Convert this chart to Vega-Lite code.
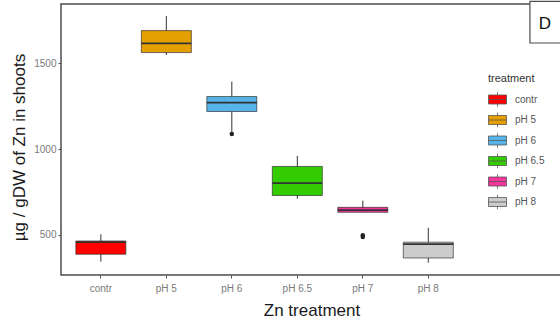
{
  "$schema": "https://vega.github.io/schema/vega-lite/v6.json",
  "width": 501,
  "height": 271,
  "autosize": {"type": "none"},
  "padding": {"left": 61, "top": 4, "right": 0, "bottom": 54},
  "background": "white",
  "config": {
    "font": "Liberation Sans",
    "view": {"stroke": "#4d4d4d", "strokeWidth": 1.5},
    "axis": {"grid": false, "domain": false, "labelColor": "#7a7a7a", "labelFontSize": 10, "tickColor": "#555", "tickSize": 3, "titleFontWeight": "normal", "titleFontSize": 17, "titleColor": "#1a1a1a"}
  },
  "datasets": {
    "boxes": [
      {"treatment": "contr", "lower": 345, "q1": 388, "median": 458, "q3": 465, "upper": 504},
      {"treatment": "pH 5", "lower": 1548, "q1": 1562, "median": 1616, "q3": 1690, "upper": 1775},
      {"treatment": "pH 6", "lower": 1100, "q1": 1219, "median": 1271, "q3": 1306, "upper": 1393},
      {"treatment": "pH 6.5", "lower": 711, "q1": 730, "median": 802, "q3": 899, "upper": 961},
      {"treatment": "pH 7", "lower": 632, "q1": 632, "median": 645, "q3": 661, "upper": 700},
      {"treatment": "pH 8", "lower": 339, "q1": 366, "median": 447, "q3": 458, "upper": 542}
    ],
    "outliers": [
      {"treatment": "pH 6", "value": 1088},
      {"treatment": "pH 7", "value": 488},
      {"treatment": "pH 7", "value": 499}
    ]
  },
  "layer": [
    {
      "data": {"name": "boxes"},
      "encoding": {
        "x": {
          "field": "treatment", "type": "nominal",
          "scale": {"domain": ["contr", "pH 5", "pH 6", "pH 6.5", "pH 7", "pH 8"], "paddingInner": 0, "paddingOuter": 0.825, "align": 0.0657},
          "axis": {"title": "Zn treatment", "labelAngle": 0, "titlePadding": 9, "labelPadding": 5}
        }
      },
      "layer": [
        {
          "mark": {"type": "rule", "color": "#333", "strokeWidth": 1},
          "encoding": {
            "y": {"field": "lower", "type": "quantitative", "scale": {"domain": [267, 1845], "nice": false, "zero": false},
              "axis": {"title": "µg / gDW of Zn in shoots", "values": [500, 1000, 1500], "format": "d", "titlePadding": 5, "titleY": 143}},
            "y2": {"field": "upper"}
          }
        },
        {
          "mark": {"type": "bar", "size": 50, "stroke": "#333", "strokeWidth": 0.7},
          "encoding": {
            "y": {"field": "q1", "type": "quantitative"},
            "y2": {"field": "q3"},
            "fill": {
              "field": "treatment", "type": "nominal",
              "scale": {"domain": ["contr", "pH 5", "pH 6", "pH 6.5", "pH 7", "pH 8"], "range": ["#FF0000", "#E69F00", "#56B4E9", "#33CC00", "#F2359C", "#CCCCCC"]},
              "legend": {
                "title": "treatment", "orient": "none", "legendX": 427, "legendY": 69,
                "titleFontSize": 11, "titleFontWeight": "normal", "titleColor": "#333", "titlePadding": 6,
                "labelFontSize": 10, "labelColor": "#555", "labelOffset": 8,
                "symbolType": "M-1,-0.5H1V0.5H-1Z M-1,0H1 M0,-0.5V-0.8 M0,0.5V0.8",
                "symbolSize": 324, "symbolStrokeColor": "#555", "symbolStrokeWidth": 0.8, "symbolOpacity": 1,
                "rowPadding": 1.5, "padding": 0
              }
            }
          }
        },
        {
          "mark": {"type": "tick", "size": 50, "thickness": 1.8, "color": "#333", "opacity": 1},
          "encoding": {
            "y": {"field": "median", "type": "quantitative"}
          }
        },
        {
          "data": {"name": "outliers"},
          "mark": {"type": "circle", "size": 20, "color": "#222", "opacity": 1},
          "encoding": {
            "y": {"field": "value", "type": "quantitative"}
          }
        }
      ]
    },
    {
      "data": {"values": [{}]},
      "layer": [
        {
          "mark": {"type": "rect", "fill": "white", "stroke": "#4d4d4d", "strokeWidth": 1.2},
          "encoding": {
            "x": {"datum": 0.936, "type": "quantitative", "scale": {"domain": [0, 1], "nice": false, "zero": false}, "axis": null},
            "x2": {"datum": 1.02},
            "y": {"datum": 1618, "type": "quantitative"},
            "y2": {"datum": 1860}
          }
        },
        {
          "mark": {"type": "text", "text": "D", "fontSize": 17, "color": "#111", "baseline": "middle", "align": "center"},
          "encoding": {
            "x": {"datum": 0.966, "type": "quantitative"},
            "y": {"datum": 1731, "type": "quantitative"}
          }
        }
      ]
    }
  ],
  "resolve": {"scale": {"x": "independent"}, "axis": {"x": "independent"}}
}
